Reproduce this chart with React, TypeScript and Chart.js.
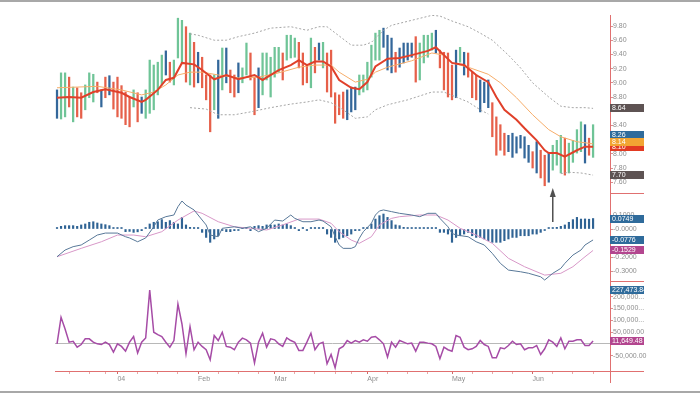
import React, { useEffect, useRef } from 'react';
import { Chart, registerables } from 'chart.js';

Chart.register(...registerables);

const FONT = '"Liberation Sans", Arial, sans-serif';

// ---------- price bars (one per trading day, index 0 = 10 Dec 2003) ----------
const barHigh = [
  8.90, 9.14, 9.14, 9.08, 8.94, 8.93, 8.86, 8.97, 9.14, 9.12,
  9.01, 8.90, 9.08, 9.10, 9.01, 9.08, 8.96, 8.87, 8.80, 8.90,
  8.86, 8.80, 8.90, 9.32, 9.25, 9.29, 9.39, 9.45, 9.29, 9.32,
  9.91, 9.88, 9.79, 9.70, 9.57, 9.43, 9.36, 9.11, 9.11, 9.11,
  9.32, 9.49, 9.49, 9.18, 9.11, 9.28, 9.21, 9.56, 9.42, 9.08,
  9.21, 9.42, 9.42, 9.36, 9.50, 9.50, 9.42, 9.67, 9.67, 9.63,
  9.57, 9.42, 9.25, 9.63, 9.50, 9.56, 9.57, 9.42, 9.46, 8.86,
  8.83, 8.87, 8.90, 8.94, 8.94, 9.11, 9.11, 9.29, 9.53, 9.70,
  9.74, 9.77, 9.67, 9.63, 9.43, 9.49, 9.56, 9.56, 9.56, 9.65,
  9.56, 9.67, 9.67, 9.70, 9.74, 9.46, 9.43, 9.42, 9.25, 9.46,
  9.50, 9.43, 9.42, 9.15, 9.11, 9.04, 9.01, 9.04, 8.72, 8.52,
  8.41, 8.29, 8.26, 8.29, 8.24, 8.26, 8.24, 8.12, 8.03, 8.17,
  8.05, 7.98, 8.01, 8.12, 8.19, 8.26, 8.22, 8.15, 8.19, 8.34,
  8.45, 8.41, 8.22, 8.41,
];
const barLow = [
  8.50, 8.49, 8.52, 8.66, 8.45, 8.52, 8.50, 8.62, 8.79, 8.73,
  8.86, 8.66, 8.79, 8.83, 8.63, 8.52, 8.50, 8.41, 8.38, 8.66,
  8.45, 8.57, 8.50, 8.57, 8.62, 8.83, 8.97, 9.11, 9.01, 8.97,
  9.35, 9.28, 9.01, 8.97, 8.94, 9.00, 8.93, 8.76, 8.31, 8.62,
  8.50, 8.90, 9.00, 8.86, 8.80, 8.86, 9.00, 9.11, 9.04, 8.55,
  8.65, 8.83, 9.04, 8.80, 9.08, 9.15, 9.04, 9.32, 9.35, 9.36,
  9.21, 8.97, 9.00, 8.93, 9.14, 9.32, 9.21, 8.87, 8.80, 8.43,
  8.55, 8.50, 8.48, 8.59, 8.62, 8.83, 8.87, 8.90, 9.08, 9.32,
  9.32, 9.50, 9.18, 9.14, 9.15, 9.22, 9.28, 9.32, 9.36, 9.01,
  9.04, 9.28, 9.36, 9.46, 9.42, 9.21, 8.90, 8.80, 8.76, 8.79,
  9.29, 9.11, 9.08, 8.79, 8.76, 8.59, 8.72, 8.65, 8.24, 7.98,
  8.05, 7.98, 8.03, 7.95, 8.01, 8.08, 7.94, 7.88, 7.80, 7.73,
  7.66, 7.55, 7.60, 7.77, 7.84, 7.73, 7.70, 7.73, 7.88, 8.01,
  8.03, 7.87, 7.98, 7.95,
];
// G = green, R = red, B = blue
const barColorCode =
  'BGGRGRRGGG' + 'RBRBRRRRRG' + 'RBGGGGGBRG' + 'GGRGRBRRRG' + 'BGBRRBGGRR' +
  'BGGGGGRGGG' + 'RRRGRBGRRR' + 'RRBBBGGGGG' + 'GBBBRBBBBR' + 'GGGGBRRRRB' +
  'GBRRRBBBRR' + 'RRBBBBBBRB' + 'RRBGGGRGGG' + 'GBRG';

// ---------- overlays: [barIndex, value] ----------
const redAverage = [
  [0, 8.79], [3, 8.80], [6, 8.79], [9, 8.87], [12, 8.91], [16, 8.86], [18, 8.80], [21, 8.73],
  [22, 8.76], [25, 8.90], [27, 9.04], [29, 9.07], [31, 9.28], [34, 9.26], [36, 9.18], [39, 9.05],
  [42, 9.11], [45, 9.05], [49, 9.11], [51, 9.04], [55, 9.18], [58, 9.25], [60, 9.32], [62, 9.25],
  [64, 9.30], [66, 9.30], [68, 9.23], [70, 9.04], [73, 8.93], [75, 8.91], [77, 9.01], [79, 9.23],
  [82, 9.34], [85, 9.35], [88, 9.39], [92, 9.45], [94, 9.50], [96, 9.39], [98, 9.28], [101, 9.25],
  [104, 9.11], [107, 9.01], [109, 8.80], [111, 8.62], [114, 8.48], [116, 8.36], [119, 8.19],
  [121, 8.05], [122, 8.01], [124, 8.01], [126, 7.96], [129, 8.05], [131, 8.10], [133, 8.10],
];
const orangeAverage = [
  [0, 8.93], [5, 8.94], [10, 8.95], [16, 8.90], [21, 8.83], [24, 8.87], [27, 8.97], [30, 9.11],
  [33, 9.15], [36, 9.15], [40, 9.11], [45, 9.07], [50, 9.08], [55, 9.14], [60, 9.22], [64, 9.25],
  [68, 9.25], [70, 9.15], [74, 9.01], [77, 9.05], [79, 9.15], [82, 9.22], [88, 9.31], [93, 9.42],
  [96, 9.39], [98, 9.28], [102, 9.22], [107, 9.12], [110, 9.00], [114, 8.79], [118, 8.55],
  [122, 8.34], [125, 8.24], [129, 8.17], [133, 8.14],
];
const upperBand = [
  [33, 9.69], [35, 9.67], [39, 9.60], [42, 9.60], [45, 9.65], [49, 9.70], [53, 9.77], [58, 9.79],
  [62, 9.74], [65, 9.79], [67, 9.79], [70, 9.66], [73, 9.53], [76, 9.53], [78, 9.57], [81, 9.74],
  [83, 9.81], [88, 9.88], [93, 9.95], [95, 9.94], [98, 9.87], [102, 9.79], [105, 9.70], [108, 9.60],
  [112, 9.39], [115, 9.21], [118, 9.00], [122, 8.80], [125, 8.67], [128, 8.65], [131, 8.65], [133, 8.64],
];
// lower band: visible part before it leaves the panel, and after it comes back
const lowerBand = [
  [33, 8.65], [37, 8.63], [40, 8.55], [44, 8.55], [48, 8.59], [53, 8.65], [58, 8.70], [62, 8.73],
  [65, 8.76], [68, 8.72], [71, 8.62], [74, 8.50], [77, 8.52], [79, 8.62], [82, 8.69], [87, 8.76],
  [93, 8.87], [96, 8.87], [99, 8.80], [102, 8.73], [105, 8.62], [107, 8.56],
];
const lowerBandLate = [
  [125, 7.72], [127, 7.74], [130, 7.73], [133, 7.70],
];

// ---------- MACD ----------
const macdLine = [
  [0, -0.198], [2, -0.150], [4, -0.126], [6, -0.114], [8, -0.079], [10, -0.043], [12, -0.029],
  [15, -0.029], [17, -0.055], [18, -0.064], [20, -0.091], [22, -0.064], [24, 0.016], [25, 0.064],
  [27, 0.088], [29, 0.100], [30, 0.159], [31, 0.200], [32, 0.171], [34, 0.136], [35, 0.100],
  [37, 0.029], [38, -0.043], [40, -0.055], [41, 0.005], [44, 0.016], [46, 0.005], [48, 0.016],
  [50, -0.019], [52, 0.005], [54, 0.064], [56, 0.057], [58, 0.100], [59, 0.076], [61, 0.052],
  [63, 0.052], [65, 0.064], [66, 0.057], [68, 0.016], [69, -0.055], [70, -0.114], [71, -0.138],
  [73, -0.138], [74, -0.126], [75, -0.066], [76, -0.019], [78, 0.041], [79, 0.100], [80, 0.129],
  [81, 0.136], [83, 0.124], [85, 0.112], [88, 0.100], [90, 0.088], [92, 0.112], [94, 0.112],
  [95, 0.076], [97, 0.016], [98, -0.031], [99, -0.043], [102, -0.055], [104, -0.091], [106, -0.114],
  [108, -0.174], [110, -0.245], [112, -0.293], [115, -0.305], [117, -0.316], [120, -0.341],
  [121, -0.364], [123, -0.316], [125, -0.281], [126, -0.245], [128, -0.186], [130, -0.150],
  [131, -0.114], [133, -0.078],
];
const signalLine = [
  [0, -0.198], [6, -0.138], [11, -0.091], [15, -0.043], [19, -0.043], [22, -0.055], [26, -0.019],
  [30, 0.064], [34, 0.129], [36, 0.112], [40, 0.052], [44, 0.016], [48, 0.005], [52, -0.007],
  [56, 0.029], [60, 0.071], [65, 0.071], [68, 0.041], [70, -0.019], [73, -0.079], [75, -0.102],
  [78, -0.055], [80, 0.029], [83, 0.076], [85, 0.088], [90, 0.100], [94, 0.100], [97, 0.064],
  [100, 0.005], [104, -0.043], [108, -0.102], [112, -0.209], [116, -0.269], [121, -0.329],
  [125, -0.316], [128, -0.269], [131, -0.198], [133, -0.153],
];
const macdHist = [
  0.004, 0.019, 0.024, 0.024, 0.024, 0.019, 0.029, 0.036, 0.048, 0.052,
  0.043, 0.036, 0.031, 0.024, 0.007, 0.005, 0.004, -0.019, -0.017, -0.024,
  -0.020, -0.012, 0.005, 0.036, 0.048, 0.052, 0.067, 0.048, 0.060, 0.048,
  0.036, 0.083, 0.029, 0.012, 0.005, 0.005, -0.024, -0.060, -0.095, -0.071,
  -0.048, -0.005, -0.019, -0.019, -0.012, -0.010, 0.005, 0.012, -0.012, 0.019,
  0.024, 0.019, 0.029, 0.029, 0.029, 0.036, 0.029, 0.036, 0.024, 0.005,
  -0.012, 0.004, -0.004, 0.004, 0.004, 0.004, 0.004, -0.036, -0.060, -0.095,
  -0.071, -0.060, -0.048, -0.036, -0.012, -0.005, 0.003, 0.012, 0.036, 0.071,
  0.095, 0.107, 0.083, 0.060, 0.029, 0.024, 0.012, 0.008, 0.006, 0.005,
  0.004, 0.004, 0.004, 0.004, 0.004, -0.024, -0.024, -0.036, -0.095, -0.060,
  -0.048, -0.036, -0.024, -0.048, -0.060, -0.060, -0.071, -0.083, -0.095, -0.095,
  -0.095, -0.083, -0.071, -0.060, -0.060, -0.048, -0.048, -0.048, -0.036, -0.036,
  -0.024, -0.004, 0.004, 0.004, 0.012, 0.019, 0.029, 0.048, 0.067, 0.083,
  0.071, 0.072, 0.070, 0.0749,
];
const arrowIndex = 123;
const arrowFrom = 0.05;
const arrowTo = 0.293;

// ---------- oscillator ----------
const oscValues = [
  0, 112000, 63000, 7000, 11000, -14000, -3000, 21000, 21000, 7000,
  0, -3000, 7000, -3000, -35000, 0, -11000, -31000, 7000, 31000,
  -39000, 7000, 25000, 227473.84, 49000, 39000, 31000, 7000, -14000, 14000,
  168000, 84000, -42000, 73000, -25000, 7000, -11000, -25000, -67000, 35000,
  14000, 49000, -11000, -14000, -25000, 7000, 24000, 17000, 3000, -81000,
  7000, 45000, -14000, 21000, 17000, 0, -11000, 25000, 14000, 6000,
  -28000, -28000, 7000, 45000, -25000, 0, 7000, -84000, -45000, -101000,
  -21000, -11000, 14000, 3000, 14000, 7000, 17000, 11000, 28000, 31000,
  17000, 0, -56000, 7000, -14000, 14000, 7000, 0, 3000, -31000,
  7000, 7000, 3000, 0, -11000, -63000, -14000, -25000, -31000, 35000,
  28000, -14000, -25000, -21000, -11000, 14000, -3000, -11000, -59000, -59000,
  -17000, -21000, -7000, 11000, -3000, 0, -25000, -17000, -17000, -7000,
  -45000, -21000, 17000, 7000, -11000, 25000, -21000, 11000, 11000, 17000,
  17000, -7000, -7000, 11649.48,
];

// ---------- axes ----------
const monthTickIndex = [15, 35, 54, 77, 98, 118];
const monthTickLabel = ['04', 'Feb', 'Mar', 'Apr', 'May', 'Jun'];
const weekTickIndex = [3, 8, 12, 20, 25, 30, 40, 45, 50, 59, 64, 69, 73, 82, 87, 92, 103, 108, 113, 123, 128, 133];

const priceTicks = [7.6, 7.8, 8.0, 8.4, 8.8, 9.0, 9.2, 9.4, 9.6, 9.8];
const macdTicks = [-0.3, -0.2, 0, 0.1];
const macdTickLabel = ['-0.3000', '-0.2000', '-0.0000', '0.1000'];
const oscTicks = [-50000, 0, 50000, 100000, 150000, 200000];
const oscTickLabel = ['-50,000.00', '', '50,000.00', '100,000...', '150,000...', '200,000...'];

const priceBoxes = [
  { v: 8.64, t: '8.64', c: '#5e5353' },
  { v: 8.265, t: '8.26', c: '#2f6b9b' },
  { v: 8.09, t: '8.10', c: '#e23a22' },
  { v: 8.16, t: '8.14', c: '#f2a533' },
  { v: 7.70, t: '7.70', c: '#5e5353' },
];
const macdBoxes = [
  { v: 0.0749, t: '0.0749', c: '#2f6b9b' },
  { v: -0.0776, t: '-0.0776', c: '#2f6b9b' },
  { v: -0.1529, t: '-0.1529', c: '#b3468f' },
];
const oscBoxes = [
  { v: 227473.84, t: '227,473.84', c: '#2f6b9b' },
  { v: 11649.48, t: '11,649.48', c: '#b3468f' },
];

const X_MIN = -0.5;
const X_MAX = 137.2;
const AXIS_W = 90;
const AXIS_RED = '#e07070';
const LABEL_GREY = '#8e8e8e';

const colorOf: Record<string, string> = { G: '#6fc497', R: '#e6604a', B: '#33679a' };
const pts = (a: number[][]) => a.map(([x, y]) => ({ x, y }));

function xHidden() {
  return { type: 'linear', min: X_MIN, max: X_MAX, display: false, offset: false };
}

function yAxis(min: number, max: number, ticks: number[], fmt: (v: number, i: number) => string, zeroLine = false) {
  return {
    type: 'linear',
    position: 'right',
    min,
    max,
    afterFit: (s: any) => { s.width = AXIS_W; },
    afterBuildTicks: (s: any) => { s.ticks = ticks.map((v) => ({ value: v })); },
    ticks: {
      autoSkip: false,
      padding: 0,
      color: LABEL_GREY,
      font: { size: 7, family: FONT },
      callback: (v: number, i: number) => fmt(v, i),
    },
    grid: {
      drawOnChartArea: zeroLine,
      color: (ctx: any) => (zeroLine && ctx.tick && ctx.tick.value === 0 ? '#b8b8b8' : 'rgba(0,0,0,0)'),
      tickLength: 3,
      tickColor: '#d89090',
    },
    border: { display: true, color: AXIS_RED, width: 1 },
  };
}

function boxesPlugin(boxes: { v: number; t: string; c: string }[], extendDown = 0) {
  return {
    id: 'valueBoxes',
    afterDraw(chart: any) {
      const { ctx, chartArea } = chart;
      const ys = chart.scales.y;
      const r = chartArea.right;
      ctx.save();
      ctx.strokeStyle = AXIS_RED;
      ctx.lineWidth = 1;
      ctx.beginPath();
      const by = Math.round(chartArea.bottom) + 0.5;
      ctx.moveTo(r, by);
      ctx.lineTo(r + 34, by);
      if (extendDown) {
        ctx.moveTo(Math.round(r) + 0.5, chartArea.bottom);
        ctx.lineTo(Math.round(r) + 0.5, chartArea.bottom + extendDown);
      }
      ctx.stroke();
      boxes.forEach((b) => {
        const py = ys.getPixelForValue(b.v);
        const top = Math.round(py - 4);
        ctx.fillStyle = b.c;
        ctx.fillRect(r, top, 34, 8);
        ctx.save();
        ctx.beginPath();
        ctx.rect(r, top, 34, 8);
        ctx.clip();
        ctx.fillStyle = '#ffffff';
        ctx.font = `7px ${FONT}`;
        ctx.textBaseline = 'middle';
        ctx.textAlign = 'left';
        ctx.fillText(b.t, r + 2, top + 4.5);
        ctx.restore();
      });
      ctx.restore();
    },
  };
}

const arrowPlugin = {
  id: 'arrow',
  afterDatasetsDraw(chart: any) {
    const { ctx } = chart;
    const x = chart.scales.x.getPixelForValue(arrowIndex);
    const yb = chart.scales.y.getPixelForValue(arrowFrom);
    const yt = chart.scales.y.getPixelForValue(arrowTo);
    ctx.save();
    ctx.strokeStyle = '#505050';
    ctx.fillStyle = '#505050';
    ctx.lineWidth = 1.5;
    ctx.beginPath();
    ctx.moveTo(x, yb);
    ctx.lineTo(x, yt + 8);
    ctx.stroke();
    ctx.beginPath();
    ctx.moveTo(x, yt);
    ctx.lineTo(x - 3, yt + 9);
    ctx.lineTo(x + 3, yt + 9);
    ctx.closePath();
    ctx.fill();
    ctx.restore();
  },
};

function lineDs(data: number[][], color: string, width: number, order: number, dash: number[] = []) {
  return {
    type: 'line',
    data: pts(data),
    borderColor: color,
    borderWidth: width,
    borderDash: dash,
    pointRadius: 0,
    tension: 0,
    fill: false,
    order,
  };
}

const common = {
  animation: false,
  responsive: false,
  maintainAspectRatio: false,
  events: [],
  plugins: { legend: { display: false }, tooltip: { enabled: false } },
};

function priceConfig(): any {
  return {
    type: 'bar',
    data: {
      datasets: [
        lineDs(redAverage, '#e0402a', 2, 0),
        lineDs(orangeAverage, '#f6ad6a', 1, 1),
        lineDs(upperBand, '#a5a5a5', 1, 2, [2, 2]),
        lineDs(lowerBand, '#a5a5a5', 1, 2, [2, 2]),
        lineDs(lowerBandLate, '#a5a5a5', 1, 2, [2, 2]),
        {
          type: 'bar',
          data: barHigh.map((h, i) => ({ x: i, y: [barLow[i], h] })),
          backgroundColor: barColorCode.split('').map((c) => colorOf[c]),
          borderWidth: 0,
          barThickness: 1.6,
          order: 3,
        },
      ],
    },
    options: {
      ...common,
      layout: { padding: { left: 55, right: 0, top: 15, bottom: 7 } },
      scales: {
        x: xHidden(),
        y: yAxis(7.448, 9.955, priceTicks, (v) => v.toFixed(2)),
      },
    },
    plugins: [boxesPlugin(priceBoxes)],
  };
}

function macdConfig(): any {
  return {
    type: 'bar',
    data: {
      datasets: [
        lineDs(macdLine, '#587898', 1, 0),
        lineDs(signalLine, '#d898c8', 1, 1),
        {
          type: 'bar',
          data: macdHist.map((v, i) => ({ x: i, y: v })),
          backgroundColor: '#2f6394',
          borderWidth: 0,
          barThickness: 1.5,
          minBarLength: 1.5,
          order: 2,
        },
      ],
    },
    options: {
      ...common,
      layout: { padding: { left: 55, right: 0, top: 12, bottom: 5 } },
      scales: {
        x: xHidden(),
        y: yAxis(-0.371, 0.257, macdTicks, (_v, i) => macdTickLabel[i]),
      },
    },
    plugins: [boxesPlugin(macdBoxes), arrowPlugin],
  };
}

function oscConfig(): any {
  const allTicks = [...monthTickIndex, ...weekTickIndex].sort((a, b) => a - b);
  return {
    type: 'line',
    data: {
      datasets: [
        {
          data: oscValues.map((v, i) => ({ x: i, y: v })),
          borderColor: '#a64ca6',
          borderWidth: 1.5,
          pointRadius: 0,
          tension: 0,
          fill: false,
        },
      ],
    },
    options: {
      ...common,
      layout: { padding: { left: 55, right: 0, top: 11, bottom: 8 } },
      scales: {
        x: {
          type: 'linear',
          min: X_MIN,
          max: X_MAX,
          offset: false,
          afterFit: (s: any) => { s.height = 14; },
          afterBuildTicks: (s: any) => { s.ticks = allTicks.map((v) => ({ value: v })); },
          ticks: {
            autoSkip: false,
            maxRotation: 0,
            align: 'start',
            padding: 1,
            color: LABEL_GREY,
            font: { size: 7, family: FONT },
            callback: (v: number) => {
              const k = monthTickIndex.indexOf(v);
              return k >= 0 ? monthTickLabel[k] : '';
            },
          },
          grid: {
            drawOnChartArea: false,
            tickLength: 3,
            tickColor: (ctx: any) => (ctx.tick && monthTickIndex.includes(ctx.tick.value) ? '#d06868' : '#e8a8a8'),
          },
          border: { display: true, color: AXIS_RED, width: 1 },
        },
        y: yAxis(-115000, 266000, oscTicks, (_v, i) => oscTickLabel[i], true),
      },
    },
    plugins: [boxesPlugin(oscBoxes, 12)],
  };
}

export default function App() {
  const priceRef = useRef<HTMLCanvasElement>(null);
  const macdRef = useRef<HTMLCanvasElement>(null);
  const oscRef = useRef<HTMLCanvasElement>(null);

  useEffect(() => {
    document.body.style.margin = '0';
    Chart.defaults.font.family = FONT;
    const charts = [
      new Chart(priceRef.current as HTMLCanvasElement, priceConfig()),
      new Chart(macdRef.current as HTMLCanvasElement, macdConfig()),
      new Chart(oscRef.current as HTMLCanvasElement, oscConfig()),
    ];
    return () => charts.forEach((c) => c.destroy());
  }, []);

  const abs = (top: number, h: number): React.CSSProperties => ({
    position: 'absolute', left: 0, top, width: 700, height: h,
  });

  return (
    <div style={{ position: 'relative', width: 700, height: 393, overflow: 'hidden', background: '#ffffff' }}>
      <canvas ref={priceRef} width={700} height={200} style={abs(0, 200)} />
      <canvas ref={macdRef} width={700} height={105} style={abs(181, 105)} />
      <canvas ref={oscRef} width={700} height={123} style={abs(270, 123)} />
      <div style={{ ...abs(0, 2), background: '#a8a8a8' }} />
      <div style={{ ...abs(391, 2), background: '#a8a8a8' }} />
    </div>
  );
}
